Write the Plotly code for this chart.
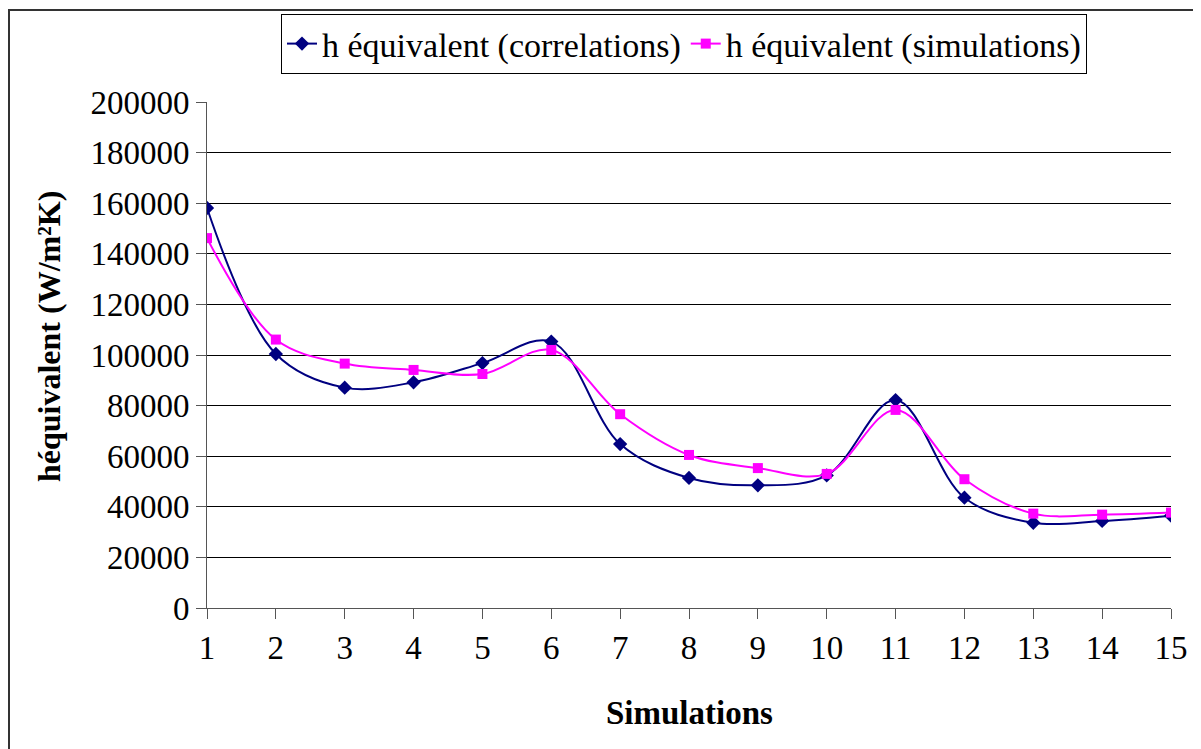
import plotly.graph_objects as go

simulations = list(range(1, 16))
h_correlations = [158100, 100400, 87100, 89200, 96800, 105300, 64800, 51400, 48500, 52400, 82200, 43600, 33700, 34400, 36500]
h_simulations = [146200, 106100, 96600, 94100, 92500, 102000, 76600, 60500, 55300, 53000, 78300, 50900, 37300, 36900, 37700]
y_ticks = list(range(0, 200001, 20000))

FONT = "Liberation Serif, Times New Roman, serif"
OFF = 8  # default body margin of the html page
W, H = 1201 - OFF, 749 - OFF
L, R, T, B = 207 - OFF, 30, 102 - OFF, 141
pw, ph = W - L - R, H - T - B

def px_x(x):
    return (x - OFF - L) / pw

def px_y(y):
    return (H - B - (y - OFF)) / ph

fig = go.Figure()
fig.add_trace(go.Scatter(
    x=simulations, y=h_correlations, name="h équivalent (correlations)",
    mode="lines+markers", line=dict(color="#000080", width=2, shape="spline", smoothing=1),
    marker=dict(symbol="diamond", size=11, color="#000080"),
))
fig.add_trace(go.Scatter(
    x=simulations, y=h_simulations, name="h équivalent (simulations)",
    mode="lines+markers", line=dict(color="#FF00FF", width=2, shape="spline", smoothing=1),
    marker=dict(symbol="square", size=10, color="#FF00FF"),
))

fig.update_layout(
    width=W, height=H,
    margin=dict(l=L, r=R, t=T, b=B, autoexpand=False),
    paper_bgcolor="white", plot_bgcolor="white",
    font=dict(family=FONT, size=32, color="black"),
    showlegend=True,
    legend=dict(
        orientation="h", x=px_x(281), y=px_y(14), xanchor="left", yanchor="top",
        bordercolor="black", borderwidth=1, bgcolor="white",
        font=dict(family=FONT, size=34, color="black"),
        itemwidth=30, tracegroupgap=0,
    ),
    xaxis=dict(
        range=[1, 15], tickmode="array", tickvals=simulations,
        showgrid=False, zeroline=False, showline=True, linecolor="#555555", linewidth=1,
        ticks="outside", ticklen=10, tickcolor="#555555", tickwidth=1,
        tickfont=dict(family=FONT, size=33), fixedrange=True,
    ),
    yaxis=dict(
        range=[0, 200000], tickmode="array", tickvals=y_ticks,
        ticktext=[str(v) for v in y_ticks],
        showgrid=True, gridcolor="black", gridwidth=1, zeroline=False,
        showline=True, linecolor="#555555", linewidth=1,
        ticks="outside", ticklen=10, tickcolor="#555555", tickwidth=1,
        tickfont=dict(family=FONT, size=33), fixedrange=True,
    ),
    annotations=[
        dict(text="<b>héquivalent (W/m²K)</b>", xref="paper", yref="paper",
             x=px_x(49), y=px_y(337), xanchor="center", yanchor="middle",
             textangle=-90, showarrow=False, font=dict(family=FONT, size=32)),
        dict(text="<b>Simulations</b>", xref="paper", yref="paper",
             x=px_x(689), y=px_y(713), xanchor="center", yanchor="middle",
             showarrow=False, font=dict(family=FONT, size=33)),
    ],
    shapes=[
        dict(type="rect", xref="paper", yref="paper",
             x0=px_x(9), y0=px_y(900), x1=px_x(1400), y1=px_y(10),
             line=dict(color="#333333", width=2), layer="below"),
    ],
)

fig.write_html("out.html")
